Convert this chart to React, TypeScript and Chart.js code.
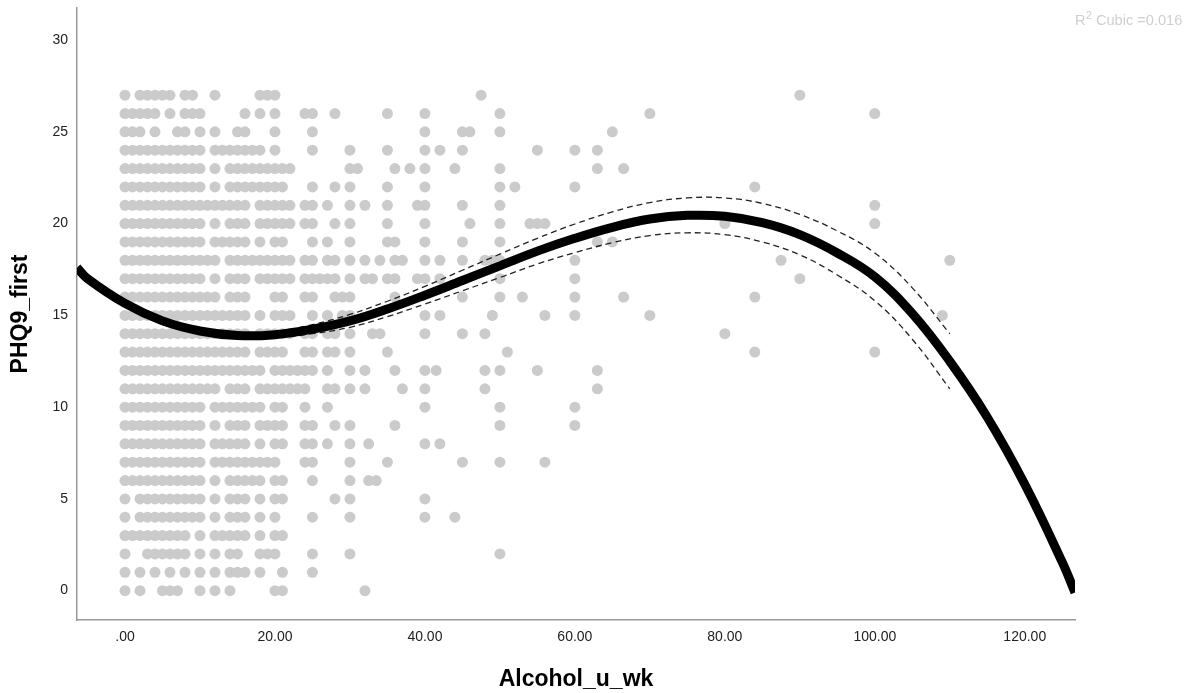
import React, { useEffect, useRef } from "react";
import { Chart, registerables } from "chart.js";

Chart.register(...registerables);

type Run = number | [number, number];

// Observed points, per PHQ9_first value (row): Alcohol_u_wk values, [a,b] = contiguous run of integer values
const phq27: Run[] = [0, [2, 6], [8, 9], 12, [18, 20], 47.5, 90];
const phq26: Run[] = [[0, 4], 6, [8, 10], 16, 18, 20, [24, 25], 28, 35, 40, 50, 70, 100];
const phq25: Run[] = [[0, 2], 4, [7, 8], 10, 12, [15, 16], 20, 25, 40, [45, 46], 50, 65];
const phq24: Run[] = [[0, 10], [12, 18], 20, 25, 30, 35, 40, 42, 45, 55, 60, 63];
const phq23: Run[] = [[0, 10], 12, [14, 22], [30, 31], 36, 38, 40, 44, 50, 63, 66.5];
const phq22: Run[] = [[0, 10], 12, [14, 21], 25, 28, 30, 35, 40, 50, 52, 60, 84];
const phq21: Run[] = [[0, 16], [18, 22], [24, 25], 27, 30, 32, 35, [39, 40], 45, 50, 100];
const phq20: Run[] = [[0, 10], 12, [14, 16], [18, 22], [24, 25], 28, 30, 35, 40, 46, 50, [54, 56], 80, 100];
const phq19: Run[] = [[0, 10], [12, 16], 18, [20, 21], 25, 27, 30, [35, 36], 40, 45, 50, 63, 65];
const phq18: Run[] = [[0, 12], [14, 22], [24, 25], [27, 28], 30, 32, 34, [36, 37], 40, 42, 45, [48, 50], 60, 87.5, 110];
const phq17: Run[] = [[0, 10], 12, [14, 16], [18, 22], [24, 28], 30, [32, 33], [35, 36], [39, 40], 42, 50, 60, 90];
const phq16: Run[] = [[0, 12], [14, 16], [20, 21], [24, 25], [28, 30], 36, 45, 50, 53, 60, 66.5, 84];
const phq15: Run[] = [[0, 16], 18, [20, 22], 25, 27, [29, 30], 40, 42, 49, 56, 60, 70, 109];
const phq14: Run[] = [[0, 16], [18, 22], [24, 25], [27, 28], 30, [33, 34], 40, 45, 48, 80];
const phq13: Run[] = [[0, 16], [18, 21], [24, 25], [27, 28], 30, 35, 51, 84, 100];
const phq12: Run[] = [[0, 18], [20, 25], 27, 30, 32, 36, 40, 41.5, 48, 50, 55, 63];
const phq11: Run[] = [[0, 12], [14, 16], [18, 24], [27, 28], 30, 32, 37, 40, 48, 63];
const phq10: Run[] = [[0, 10], [12, 18], [20, 21], 24, 27, 40, 50, 60];
const phq9: Run[] = [[0, 10], 12, [14, 16], [18, 21], [24, 25], 28, 30, 36, 50, 60];
const phq8: Run[] = [[0, 10], [12, 16], 18, [20, 21], [24, 25], 27, 30, 32.5, 40, 42];
const phq7: Run[] = [[0, 10], [12, 20], [24, 25], 30, 35, 45, 50, 56];
const phq6: Run[] = [[0, 10], 12, [14, 18], [20, 21], 25, 30, 32.5, 33.5];
const phq5: Run[] = [0, [2, 10], 12, [14, 16], 18, [20, 21], 28, 30, 40];
const phq4: Run[] = [0, [2, 10], 12, [14, 16], 18, 20, 25, 30, 40, 44];
const phq3: Run[] = [[0, 8], 10, [12, 16], 18, [20, 21]];
const phq2: Run[] = [0, [3, 8], 10, 12, [14, 15], [18, 20], 25, 30, 50];
const phq1: Run[] = [0, 2, 4, 6, 8, 10, 12, [14, 16], 18, 21, 25];
const phq0: Run[] = [0, 2, [5, 7], 10, 12, 14, [20, 21], 32];

const phqRows: [number, Run[]][] = [
  [27, phq27], [26, phq26], [25, phq25], [24, phq24], [23, phq23], [22, phq22], [21, phq21],
  [20, phq20], [19, phq19], [18, phq18], [17, phq17], [16, phq16], [15, phq15], [14, phq14],
  [13, phq13], [12, phq12], [11, phq11], [10, phq10], [9, phq9], [8, phq8], [7, phq7],
  [6, phq6], [5, phq5], [4, phq4], [3, phq3], [2, phq2], [1, phq1], [0, phq0],
];

// Cubic fit line
const curveX = [-6.4, -5, 0, 5, 10, 15, 20, 25, 30, 35, 40, 45, 50, 55, 60, 65, 70, 75, 80, 85, 90, 95, 100, 105, 110, 115, 120, 125, 126.7];
const curveY = [17.6, 17.0, 15.65, 14.7, 14.15, 13.9, 13.95, 14.25, 14.7, 15.35, 16.1, 16.9, 17.7, 18.5, 19.2, 19.8, 20.25, 20.45, 20.4, 20.05, 19.4, 18.4, 17.1, 15.1, 12.5, 9.45, 5.8, 1.55, -0.1];

// Confidence band (dashed)
const bandX = [0, 5, 10, 15, 20, 25, 30, 35, 40, 45, 50, 55, 60, 65, 70, 75, 80, 85, 90, 95, 100, 105, 110];
const bandUpper = [15.85, 14.88, 14.3, 14.05, 14.12, 14.5, 15.05, 15.77, 16.58, 17.46, 18.34, 19.2, 19.98, 20.64, 21.15, 21.4, 21.4, 21.1, 20.5, 19.6, 18.4, 16.5, 14.0];
const bandLower = [15.45, 14.52, 14.0, 13.75, 13.78, 14.0, 14.35, 14.93, 15.62, 16.34, 17.06, 17.8, 18.42, 18.96, 19.35, 19.5, 19.4, 19.0, 18.3, 17.2, 15.8, 13.7, 11.0];

const yTicks = [0, 5, 10, 15, 20, 25, 30];
const xTicks = [0, 20, 40, 60, 80, 100, 120];
const xTickLabels = [".00", "20.00", "40.00", "60.00", "80.00", "100.00", "120.00"];

const fitLabel = { r: "R", sup: "2", rest: " Cubic =0.016" };

function expandRow(y: number, runs: Run[]) {
  const pts: { x: number; y: number }[] = [];
  for (const r of runs) {
    if (Array.isArray(r)) {
      for (let v = r[0]; v <= r[1]; v++) pts.push({ x: v, y });
    } else pts.push({ x: r, y });
  }
  return pts;
}

const FONT = '"Liberation Sans", Arial, sans-serif';

export default function App() {
  const ref = useRef<HTMLCanvasElement | null>(null);
  useEffect(() => {
    if (!ref.current) return;
    const scatterPts = phqRows.flatMap(([y, runs]) => expandRow(y, runs));
    const curvePts = curveX.map((x, i) => ({ x, y: curveY[i] }));
    const upPts = bandX.map((x, i) => ({ x, y: bandUpper[i] }));
    const loPts = bandX.map((x, i) => ({ x, y: bandLower[i] }));

    const labelPlugin = {
      id: "fitLabel",
      afterDraw(chart: any) {
        const ctx = chart.ctx;
        ctx.save();
        ctx.fillStyle = "#cfcfcf";
        ctx.textBaseline = "alphabetic";
        ctx.textAlign = "left";
        let x = 1075;
        const y = 25;
        ctx.font = `14.6px ${FONT}`;
        ctx.fillText(fitLabel.r, x, y);
        x += ctx.measureText(fitLabel.r).width + 0.5;
        ctx.font = `10.5px ${FONT}`;
        ctx.fillText(fitLabel.sup, x, y - 6);
        x += ctx.measureText(fitLabel.sup).width;
        ctx.font = `14.6px ${FONT}`;
        ctx.fillText(fitLabel.rest, x, y);
        ctx.restore();
      },
    };

    const chart = new Chart(ref.current, {
      type: "scatter",
      data: {
        datasets: [
          {
            type: "line",
            data: curvePts,
            borderColor: "#000",
            borderWidth: 9,
            pointRadius: 0,
            tension: 0.4,
            fill: false,
            order: 0,
          } as any,
          {
            type: "line",
            data: upPts,
            borderColor: "#222",
            borderWidth: 1.3,
            borderDash: [6, 4],
            pointRadius: 0,
            tension: 0.4,
            fill: false,
            order: 1,
          } as any,
          {
            type: "line",
            data: loPts,
            borderColor: "#222",
            borderWidth: 1.3,
            borderDash: [6, 4],
            pointRadius: 0,
            tension: 0.4,
            fill: false,
            order: 1,
          } as any,
          {
            type: "scatter",
            data: scatterPts,
            backgroundColor: "#cbcbcb",
            borderWidth: 0,
            pointRadius: 5.5,
            pointHoverRadius: 5.5,
            order: 2,
          },
        ],
      },
      options: {
        responsive: false,
        animation: false,
        events: [],
        layout: { padding: { left: 0, top: 8, right: 121, bottom: 0 } },
        plugins: {
          legend: { display: false },
          tooltip: { enabled: false },
        },
        scales: {
          x: {
            type: "linear",
            min: -6.4,
            max: 126.7,
            grid: { display: false, drawTicks: false },
            border: { display: true, color: "#999", width: 1.5 },
            afterBuildTicks: (s: any) => {
              s.ticks = xTicks.map((v) => ({ value: v }));
            },
            afterFit: (s: any) => {
              s.height = 73;
              s.paddingLeft = 0;
              s.paddingRight = 0;
            },
            ticks: {
              padding: 9,
              color: "#222",
              font: { family: FONT, size: 14 },
              maxRotation: 0,
              autoSkip: false,
              callback: (v: any) => {
                const i = xTicks.indexOf(Number(v));
                return i >= 0 ? xTickLabels[i] : "";
              },
            },
            title: {
              display: true,
              text: "Alcohol_u_wk",
              color: "#000",
              font: { family: FONT, size: 23, weight: "bold" },
              padding: { top: 0, bottom: 0 },
            },
          },
          y: {
            type: "linear",
            min: -1.6,
            max: 31.75,
            grid: { display: false, drawTicks: false },
            border: { display: true, color: "#999", width: 1.5 },
            afterBuildTicks: (s: any) => {
              s.ticks = yTicks.map((v) => ({ value: v }));
            },
            afterFit: (s: any) => {
              s.width = 77;
              s.paddingTop = 0;
              s.paddingBottom = 0;
            },
            ticks: {
              padding: 9,
              color: "#222",
              font: { family: FONT, size: 14 },
              autoSkip: false,
              callback: (v: any) => String(v),
            },
            title: {
              display: true,
              text: "PHQ9_first",
              color: "#000",
              font: { family: FONT, size: 23, weight: "bold" },
              padding: { top: 7, bottom: 0 },
            },
          },
        },
      },
      plugins: [labelPlugin],
    });
    return () => chart.destroy();
  }, []);

  return (
    <div style={{ position: "absolute", left: 0, top: 0, width: 1196, height: 693, background: "#fff" }}>
      <canvas ref={ref} width={1196} height={693} style={{ display: "block", width: 1196, height: 693 }} />
    </div>
  );
}
